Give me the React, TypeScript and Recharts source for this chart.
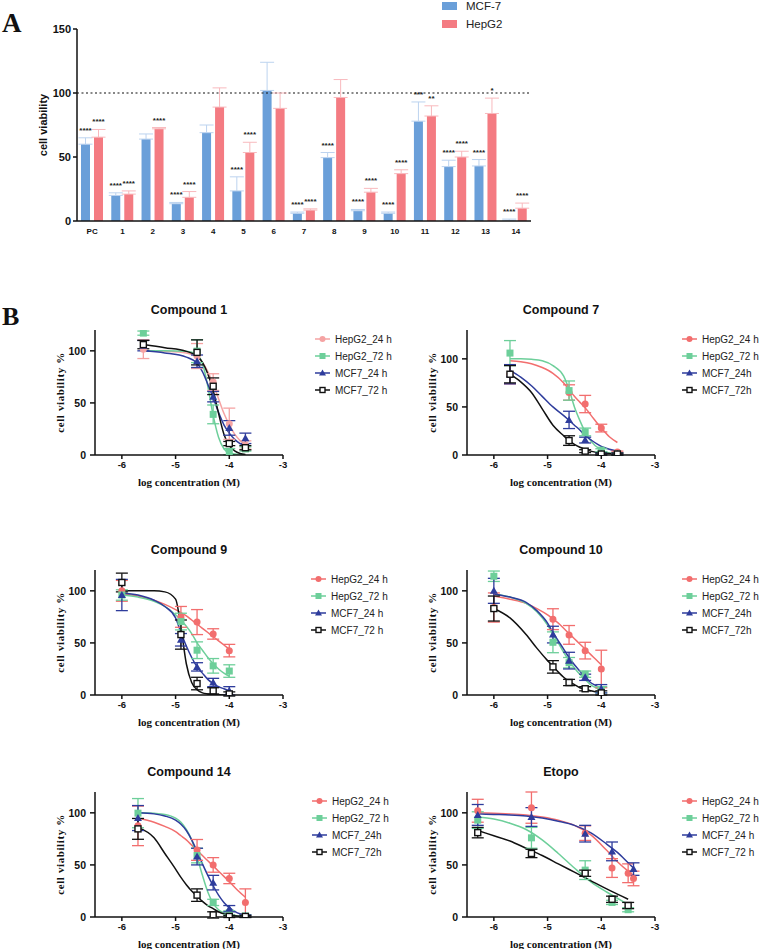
import {
  BarChart,
  Bar,
  XAxis,
  YAxis,
  ErrorBar,
  LabelList,
  ReferenceLine,
  Legend,
  ComposedChart,
  Line,
  Scatter,
} from "recharts";

const SANS = '"Liberation Sans", Arial, sans-serif';
const SERIF = '"Liberation Serif", "Times New Roman", serif';

// ---------- panel A : bar chart ----------
const groups = ["PC", "1", "2", "3", "4", "5", "6", "7", "8", "9", "10", "11", "12", "13", "14"];
const mcfVal = [60, 20, 64, 13.5, 69, 23.5, 102, 6, 49.5, 8, 6, 78, 42.5, 43, 0.5];
const mcfErr = [5, 2, 4, 1, 6, 11, 22, 1, 4, 1, 1, 15, 5, 5, 1];
const hepVal = [65.5, 21, 72, 18.5, 89, 53.5, 88, 8.5, 96.5, 22.5, 37, 82, 50, 84, 10];
const hepErr = [6, 2.5, 1, 4.5, 15, 8, 12, 1, 14, 3, 3, 8, 4.5, 12, 4];
const mcfSig = ["****", "****", "", "****", "", "****", "", "****", "****", "****", "****", "***", "****", "****", "****"];
const hepSig = ["****", "****", "****", "****", "", "****", "", "****", "", "****", "****", "**", "****", "*", "****"];

const BAR_BLUE = "#6a9fd9";
const BAR_RED = "#f47b82";

// ---------- panel B : dose response ----------
const c1Conc = [-5.6, -4.6, -4.3, -4.0, -3.7];
const c1Hep24 = [101.6, 95, 70, 30, 9.6];
const c1Hep24Sd = [9, 12, 8, 15, 4];
const c1Hep72 = [117, 99.7, 39, 3.2, 5.8];
const c1Hep72Sd = [2, 11, 9, 3, 2];
const c1Mcf24 = [105, 90, 56, 26, 16];
const c1Mcf24Sd = [5, 6, 5, 7, 5];
const c1Mcf72 = [106, 98.5, 66, 11, 7];
const c1Mcf72Sd = [4, 12, 8, 2, 2];
const c1FitX = [-5.6, -5.2, -4.8, -4.6, -4.5, -4.4, -4.3, -4.2, -4.1, -4.0, -3.9, -3.8, -3.7];
const c1Hep24Fit = [100, 99.5, 98, 94, 89, 80, 68, 54, 40, 29, 20, 14, 10];
const c1Hep72Fit = [100, 100, 99.5, 96, 88, 66, 38, 17, 6, 2, 1, 0.5, 0.3];
const c1Mcf24Fit = [100, 98, 94, 88, 80, 68, 55, 41, 29, 21, 15, 11, 9];
const c1Mcf72Fit = [106, 103, 99.5, 95, 89, 78, 62, 40, 20, 9, 4, 1.5, 0.5];

const c7Conc = [-5.7, -4.6, -4.3, -4.0, -3.7];
const c7Hep24 = [84, 65, 53, 28, 3];
const c7Hep24Sd = [10, 8, 9, 4, 1];
const c7Hep72 = [106, 67, 24, 5, 1];
const c7Hep72Sd = [13, 10, 4, 1.5, 1];
const c7Mcf24 = [84, 36.5, 15.5, 1, 1];
const c7Mcf24Sd = [10, 9, 3, 1, 1];
const c7Mcf72 = [84, 15, 4, 1, 1];
const c7Mcf72Sd = [9, 5, 1.5, 1, 1];
const c7FitX = [-5.7, -5.5, -5.3, -5.1, -4.9, -4.7, -4.6, -4.5, -4.4, -4.3, -4.2, -4.0, -3.85, -3.7];
const c7Hep24Fit = [98, 97, 95, 91, 85, 75, 68, 61, 55, 49, 42, 28, 19, 13];
const c7Hep72Fit = [100, 100, 99.5, 98, 93, 82, 68, 50, 36, 24, 15, 5, 2, 1];
const c7Mcf24Fit = [88, 81, 72, 61, 50, 41, 36, 31, 26, 20, 16, 9, 6, 4];
const c7Mcf72Fit = [84, 76, 65, 48, 31, 20, 15, 11, 8, 6, 4, 2, 1.5, 1];

const c9Conc = [-6, -4.9, -4.6, -4.3, -4.0];
const c9Hep24 = [100, 75, 70, 58.6, 42.6];
const c9Hep24Sd = [10, 10, 12, 5, 6];
const c9Hep72 = [96, 70.5, 43, 28, 23];
const c9Hep72Sd = [5, 8, 8, 7, 6];
const c9Mcf24 = [96, 53, 27, 12, 4];
const c9Mcf24Sd = [15, 6, 4, 4, 4];
const c9Mcf72 = [108, 58, 11, 4, 1];
const c9Mcf72Sd = [9, 14, 6, 3, 2];
const c9FitX = [-6, -5.7, -5.4, -5.2, -5.0, -4.9, -4.8, -4.7, -4.6, -4.5, -4.4, -4.3, -4.2, -4.1, -4.0];
const c9Hep24Fit = [97, 95, 91, 87, 82, 79, 76, 72, 68, 64, 60, 56, 52, 48, 44];
const c9Hep72Fit = [96, 94, 90, 85, 77, 72, 66, 59, 50, 43, 36, 30, 25, 21, 18];
const c9Mcf24Fit = [98, 96, 91, 85, 74, 60, 47, 36, 27, 21, 15, 11, 8, 6, 4];
const c9Mcf72Fit = [100, 100, 100, 99, 92, 65, 30, 12, 5, 2, 1, 0.5, 0.2, 0, 0];

const c10Conc = [-6, -4.9, -4.6, -4.3, -4.0];
const c10Hep24 = [84, 72.8, 57.7, 42.6, 25];
const c10Hep24Sd = [14, 10, 9, 8, 18];
const c10Hep72 = [114, 50.6, 31, 20, 5];
const c10Hep72Sd = [5, 10, 5, 3, 3];
const c10Mcf24 = [100, 58, 33, 17, 6];
const c10Mcf24Sd = [12, 8, 8, 3, 4];
const c10Mcf72 = [83, 27, 12, 6, 2];
const c10Mcf72Sd = [12, 6, 3, 2, 2];
const c10FitX = [-6, -5.7, -5.4, -5.2, -5.0, -4.9, -4.8, -4.7, -4.6, -4.5, -4.4, -4.3, -4.2, -4.1, -4.0];
const c10Hep24Fit = [95, 92, 88, 83, 77, 73, 69, 64, 59, 54, 49, 44, 39, 34, 29];
const c10Hep72Fit = [97, 94, 88, 80, 67, 58, 50, 41, 33, 26, 20, 15, 10, 7, 5];
const c10Mcf24Fit = [97, 94, 89, 81, 69, 60, 52, 44, 36, 29, 23, 17, 12, 9, 6];
const c10Mcf72Fit = [83, 74, 58, 45, 33, 27.5, 22, 17, 13, 10, 7, 5.5, 4, 3, 2];

const c14Conc = [-5.7, -4.6, -4.3, -4.0, -3.7];
const c14Hep24 = [87.5, 64.4, 50, 37, 14];
const c14Hep24Sd = [19, 10, 7, 5, 13];
const c14Hep72 = [99.7, 59, 14, 4, 1];
const c14Hep72Sd = [14, 7, 3, 2, 1];
const c14Mcf24 = [95, 58, 33, 8, 1];
const c14Mcf24Sd = [12, 8, 7, 3, 1];
const c14Mcf72 = [84.6, 21, 2, 0.5, 0.5];
const c14Mcf72Sd = [10, 6, 3, 1, 1];
const c14FitX = [-5.7, -5.4, -5.2, -5.0, -4.9, -4.8, -4.7, -4.6, -4.5, -4.4, -4.3, -4.2, -4.1, -4.0, -3.85, -3.7];
const c14Hep24Fit = [95, 91, 87, 82, 78, 74, 69, 64, 59, 54, 49, 44, 39, 34, 26, 19];
const c14Hep72Fit = [100, 99.5, 98.5, 95, 91, 84, 74, 58, 40, 24, 13, 7, 4, 2, 1, 0.5];
const c14Mcf24Fit = [100, 99, 97, 93, 89, 83, 74, 63, 51, 40, 30, 21, 14, 9, 4, 2];
const c14Mcf72Fit = [86, 76, 61, 46, 38, 31, 25, 20, 15, 11, 8, 5, 3, 2, 1, 0.5];

const eHep24Conc = [-6.3, -5.3, -4.3, -3.8, -3.5, -3.4];
const eHep24 = [102, 105, 80.5, 47, 42, 37];
const eHep24Sd = [11, 15, 7, 9, 9, 7];
const eHep72Conc = [-6.3, -5.3, -4.3, -3.8, -3.5];
const eHep72 = [93, 76, 45, 14, 7];
const eHep72Sd = [8, 10, 9, 2, 2];
const eMcf24Conc = [-6.3, -5.3, -4.3, -3.8, -3.4];
const eMcf24 = [98, 96, 80, 63, 46];
const eMcf24Sd = [10, 9, 8, 9, 6];
const eMcf72Conc = [-6.3, -5.3, -4.3, -3.8, -3.5];
const eMcf72 = [81, 61, 42, 17, 11];
const eMcf72Sd = [5, 4, 3, 3, 3];
const eFitX = [-6.3, -6.0, -5.7, -5.4, -5.1, -4.8, -4.5, -4.2, -3.9, -3.7, -3.5, -3.4];
const eHep24Fit = [100, 99.5, 99, 98, 96, 93, 88, 79, 64, 53, 44, 40];
const eMcf24Fit = [99, 98.5, 98, 97, 95, 92, 88, 81, 70, 62, 52, 47];
const eHep72Fit = [96, 94, 90, 84, 74, 61, 47, 34, 24, 18, 12];
const eMcf72Fit = [83, 78, 73, 66, 59, 51, 43, 35, 27, 22, 17];

const RED = "#f26e6e";
const PINK = "#f5a3a3";
const GREEN = "#6dcf9a";
const BLUE = "#2e3c9c";
const BLACK = "#111111";

type Shape = "circle" | "square" | "triangle" | "open";
type Series = {
  name: string;
  color: string;
  shape: Shape;
  conc: number[];
  mean: number[];
  sd: number[];
  fitX: number[];
  fitY: number[];
};

const marker = (shape: Shape, cx: number, cy: number, color: string, s = 3.5) => {
  if (shape === "circle") return <circle cx={cx} cy={cy} r={s} fill={color} />;
  if (shape === "square") return <rect x={cx - s} y={cy - s} width={2 * s} height={2 * s} fill={color} />;
  if (shape === "triangle")
    return (
      <polygon
        points={`${cx},${cy - s - 0.5} ${cx - s - 0.5},${cy + s - 0.5} ${cx + s + 0.5},${cy + s - 0.5}`}
        fill={color}
      />
    );
  return (
    <rect
      x={cx - s + 0.5}
      y={cy - s + 0.5}
      width={2 * s - 1}
      height={2 * s - 1}
      fill="#fff"
      stroke={color}
      strokeWidth={1.4}
    />
  );
};

const pts = (s: Series) => s.conc.map((x, i) => ({ x, y: s.mean[i], sd: s.sd[i] }));
const curve = (s: Series) => s.fitY.map((y, i) => ({ x: s.fitX[i], y }));

const mk = (
  name: string,
  color: string,
  shape: Shape,
  conc: number[],
  mean: number[],
  sd: number[],
  fitX: number[],
  fitY: number[]
): Series => ({ name, color, shape, conc, mean, sd, fitX, fitY });

const legendBox = (items: Series[]) => (
  <div style={{ fontFamily: SANS, fontSize: 10, color: "#222", lineHeight: "17px" }}>
    {items.map((s) => (
      <div key={s.name} style={{ display: "flex", alignItems: "center", height: 17, whiteSpace: "nowrap" }}>
        <svg width={15} height={10} style={{ marginRight: 5 }}>
          <line x1={0} x2={15} y1={5} y2={5} stroke={s.color} strokeWidth={1.5} />
          {marker(s.shape, 7.5, 5, s.color, 3)}
        </svg>
        <span>{s.name}</span>
      </div>
    ))}
  </div>
);

const axisStroke = { stroke: "#111", strokeWidth: 1.5 };

function DosePanel({
  title,
  plotLeft,
  plotTop,
  yMax,
  legendX,
  series,
}: {
  title: string;
  plotLeft: number;
  plotTop: number;
  yMax: number;
  legendX: number;
  series: Series[];
}) {
  const W = 380;
  const H = 180;
  const chartLeft = plotLeft - 95;
  const chartTop = plotTop - 10;
  return (
    <>
      <div
        style={{
          position: "absolute",
          left: plotLeft,
          width: 188,
          top: plotTop - 26,
          textAlign: "center",
          font: `700 12.5px ${SANS}`,
          lineHeight: 1,
          color: "#111",
        }}
      >
        {title}
      </div>
      <div style={{ position: "absolute", left: chartLeft, top: chartTop }}>
        <ComposedChart width={W} height={H} margin={{ top: 10, right: W - 95 - 188, bottom: 5, left: 0 }}>
          <XAxis
            type="number"
            dataKey="x"
            domain={[-6.5, -3]}
            ticks={[-6, -5, -4, -3]}
            allowDataOverflow
            height={40}
            tickSize={4}
            tickMargin={2}
            axisLine={axisStroke}
            tickLine={axisStroke}
            tick={{ fontSize: 9.5, fontWeight: 700, fill: "#111", fontFamily: SANS }}
            label={{
              value: "log concentration (M)",
              position: "insideBottom",
              offset: 9,
              fontSize: 11,
              fontWeight: 700,
              fontFamily: SERIF,
              fill: "#111",
            }}
          />
          <YAxis
            type="number"
            dataKey="y"
            domain={[0, yMax]}
            ticks={[0, 50, 100]}
            allowDataOverflow
            width={95}
            tickSize={5}
            tickMargin={4}
            axisLine={axisStroke}
            tickLine={axisStroke}
            tick={{ fontSize: 10.5, fontWeight: 700, fill: "#111", fontFamily: SANS }}
            label={{
              value: "cell viability %",
              angle: -90,
              position: "center",
              dx: 13,
              fontSize: 11,
              fontWeight: 700,
              fontFamily: SERIF,
              letterSpacing: 0.6,
              fill: "#111",
            }}
          />
          <Legend
            layout="horizontal"
            verticalAlign="middle"
            align="center"
            wrapperStyle={{ left: legendX - chartLeft, top: 10.5, width: "auto" }}
            content={() => legendBox(series)}
          />
          {series.map((s) => (
            <Line
              key={"fit-" + s.name}
              data={curve(s)}
              dataKey="y"
              type="monotone"
              dot={false}
              stroke={s.color}
              strokeWidth={1.5}
              isAnimationActive={false}
              legendType="none"
            />
          ))}
          {series.map((s) => (
            <Scatter
              key={"pts-" + s.name}
              data={pts(s)}
              dataKey="y"
              isAnimationActive={false}
              shape={(p: any) => marker(s.shape, p.cx, p.cy, s.color)}
            >
              <ErrorBar dataKey="sd" direction="y" width={6} stroke={s.color} strokeWidth={1.3} />
            </Scatter>
          ))}
        </ComposedChart>
      </div>
    </>
  );
}

const barData = groups.map((g, i) => ({
  name: g,
  mcf: mcfVal[i],
  mcfErr: [0, mcfErr[i]],
  hep: hepVal[i],
  hepErr: [0, hepErr[i]],
}));

const starContent = (vals: number[], errs: number[], sig: string[]) => (p: any) => {
  const i = p.index;
  const s = sig[i];
  if (!s) return null;
  const vb = p.viewBox || {};
  const x = Number(p.x ?? vb.x);
  const y = Number(p.y ?? vb.y);
  const w = Number(p.width ?? vb.width);
  const h = Number(p.height ?? vb.height);
  const unit = vals[i] > 0 ? h / vals[i] : 0;
  return (
    <text
      x={x + w / 2}
      y={y - errs[i] * unit - 5}
      textAnchor="middle"
      fontSize={8}
      fontWeight={700}
      fontFamily={SANS}
      fill="#222"
    >
      {s}
    </text>
  );
};

function BarPanel() {
  return (
    <div style={{ position: "absolute", left: 0, top: 0 }}>
      <BarChart
        width={560}
        height={250}
        data={barData}
        barSize={9}
        barGap={4}
        margin={{ top: 29, right: 29, bottom: 0, left: 0 }}
      >
        <XAxis
          dataKey="name"
          height={29}
          interval={0}
          tickLine={false}
          tickSize={0}
          tickMargin={7}
          axisLine={axisStroke}
          tick={{ fontSize: 8, fontWeight: 700, fill: "#111", fontFamily: SANS }}
        />
        <YAxis
          domain={[0, 150]}
          ticks={[0, 50, 100, 150]}
          allowDataOverflow
          width={77}
          tickSize={4}
          tickMargin={2}
          axisLine={axisStroke}
          tickLine={axisStroke}
          tick={{ fontSize: 11, fontWeight: 700, fill: "#111", fontFamily: SANS }}
          label={{
            value: "cell viability",
            angle: -90,
            position: "center",
            dx: 4.5,
            fontSize: 11,
            fontWeight: 700,
            fontFamily: SANS,
            fill: "#111",
          }}
        />
        <ReferenceLine y={100} stroke="#111" strokeWidth={1.2} strokeDasharray="2 2.5" />
        <Legend
          layout="horizontal"
          verticalAlign="middle"
          align="center"
          wrapperStyle={{ left: 442, top: -3.5, width: "auto" }}
          content={() => (
            <div style={{ fontFamily: SANS, fontSize: 11.5, color: "#222" }}>
              {[
                { n: "MCF-7", c: BAR_BLUE },
                { n: "HepG2", c: BAR_RED },
              ].map((it) => (
                <div key={it.n} style={{ display: "flex", alignItems: "center", height: 18 }}>
                  <span style={{ width: 15, height: 8, background: it.c, marginRight: 9, display: "inline-block" }} />
                  <span>{it.n}</span>
                </div>
              ))}
            </div>
          )}
        />
        <Bar dataKey="mcf" fill={BAR_BLUE} isAnimationActive={false}>
          <ErrorBar dataKey="mcfErr" direction="y" width={7} stroke="#bcd3ef" strokeWidth={1} />
          <LabelList dataKey="mcf" content={starContent(mcfVal, mcfErr, mcfSig)} />
        </Bar>
        <Bar dataKey="hep" fill={BAR_RED} isAnimationActive={false}>
          <ErrorBar dataKey="hepErr" direction="y" width={7} stroke="#f8b9bd" strokeWidth={1} />
          <LabelList dataKey="hep" content={starContent(hepVal, hepErr, hepSig)} />
        </Bar>
      </BarChart>
    </div>
  );
}

const c1 = [
  mk("HepG2_24 h", PINK, "circle", c1Conc, c1Hep24, c1Hep24Sd, c1FitX, c1Hep24Fit),
  mk("HepG2_72 h", GREEN, "square", c1Conc, c1Hep72, c1Hep72Sd, c1FitX, c1Hep72Fit),
  mk("MCF7_24 h", BLUE, "triangle", c1Conc, c1Mcf24, c1Mcf24Sd, c1FitX, c1Mcf24Fit),
  mk("MCF7_72 h", BLACK, "open", c1Conc, c1Mcf72, c1Mcf72Sd, c1FitX, c1Mcf72Fit),
];
const c7 = [
  mk("HepG2_24 h", RED, "circle", c7Conc, c7Hep24, c7Hep24Sd, c7FitX, c7Hep24Fit),
  mk("HepG2_72 h", GREEN, "square", c7Conc, c7Hep72, c7Hep72Sd, c7FitX, c7Hep72Fit),
  mk("MCF7_24h", BLUE, "triangle", c7Conc, c7Mcf24, c7Mcf24Sd, c7FitX, c7Mcf24Fit),
  mk("MCF7_72h", BLACK, "open", c7Conc, c7Mcf72, c7Mcf72Sd, c7FitX, c7Mcf72Fit),
];
const c9 = [
  mk("HepG2_24 h", RED, "circle", c9Conc, c9Hep24, c9Hep24Sd, c9FitX, c9Hep24Fit),
  mk("HepG2_72 h", GREEN, "square", c9Conc, c9Hep72, c9Hep72Sd, c9FitX, c9Hep72Fit),
  mk("MCF7_24 h", BLUE, "triangle", c9Conc, c9Mcf24, c9Mcf24Sd, c9FitX, c9Mcf24Fit),
  mk("MCF7_72 h", BLACK, "open", c9Conc, c9Mcf72, c9Mcf72Sd, c9FitX, c9Mcf72Fit),
];
const c10 = [
  mk("HepG2_24 h", RED, "circle", c10Conc, c10Hep24, c10Hep24Sd, c10FitX, c10Hep24Fit),
  mk("HepG2_72 h", GREEN, "square", c10Conc, c10Hep72, c10Hep72Sd, c10FitX, c10Hep72Fit),
  mk("MCF7_24h", BLUE, "triangle", c10Conc, c10Mcf24, c10Mcf24Sd, c10FitX, c10Mcf24Fit),
  mk("MCF7_72h", BLACK, "open", c10Conc, c10Mcf72, c10Mcf72Sd, c10FitX, c10Mcf72Fit),
];
const c14 = [
  mk("HepG2_24 h", RED, "circle", c14Conc, c14Hep24, c14Hep24Sd, c14FitX, c14Hep24Fit),
  mk("HepG2_72 h", GREEN, "square", c14Conc, c14Hep72, c14Hep72Sd, c14FitX, c14Hep72Fit),
  mk("MCF7_24h", BLUE, "triangle", c14Conc, c14Mcf24, c14Mcf24Sd, c14FitX, c14Mcf24Fit),
  mk("MCF7_72h", BLACK, "open", c14Conc, c14Mcf72, c14Mcf72Sd, c14FitX, c14Mcf72Fit),
];
const etopo = [
  mk("HepG2_24 h", RED, "circle", eHep24Conc, eHep24, eHep24Sd, eFitX, eHep24Fit),
  mk("HepG2_72 h", GREEN, "square", eHep72Conc, eHep72, eHep72Sd, eFitX, eHep72Fit),
  mk("MCF7_24 h", BLUE, "triangle", eMcf24Conc, eMcf24, eMcf24Sd, eFitX, eMcf24Fit),
  mk("MCF7_72 h", BLACK, "open", eMcf72Conc, eMcf72, eMcf72Sd, eFitX, eMcf72Fit),
];

const panelLetter = (txt: string, top: number, size: number) => (
  <div
    style={{
      position: "absolute",
      left: 2,
      top,
      fontFamily: SERIF,
      fontWeight: 700,
      fontSize: size,
      lineHeight: 1,
      color: "#111",
    }}
  >
    {txt}
  </div>
);

export default function App() {
  return (
    <div
      style={{
        position: "absolute",
        left: 0,
        top: 0,
        width: 760,
        height: 949,
        background: "#fff",
        overflow: "hidden",
        fontFamily: SANS,
      }}
    >
      {panelLetter("A", 10, 27)}
      <BarPanel />
      {panelLetter("B", 304, 26)}
      <DosePanel title="Compound 1" plotLeft={95} plotTop={330} yMax={120} legendX={315} series={c1} />
      <DosePanel title="Compound 7" plotLeft={467} plotTop={330} yMax={130} legendX={682} series={c7} />
      <DosePanel title="Compound 9" plotLeft={95} plotTop={570} yMax={120} legendX={311} series={c9} />
      <DosePanel title="Compound 10" plotLeft={467} plotTop={570} yMax={120} legendX={682} series={c10} />
      <DosePanel title="Compound 14" plotLeft={95} plotTop={792} yMax={120} legendX={312} series={c14} />
      <DosePanel title="Etopo" plotLeft={467} plotTop={792} yMax={120} legendX={682} series={etopo} />
    </div>
  );
}
